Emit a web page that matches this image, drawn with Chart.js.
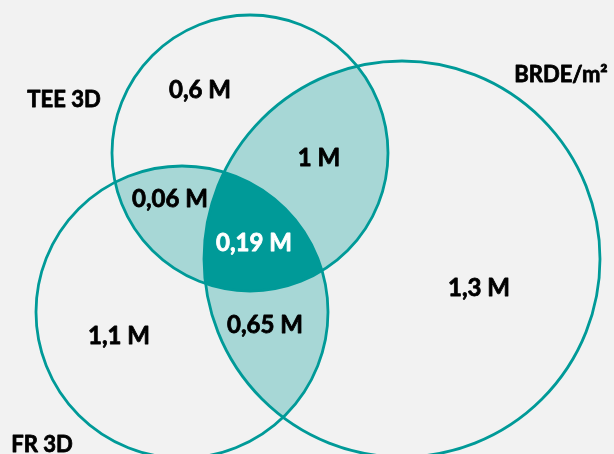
<!DOCTYPE html>
<html>
<head>
<meta charset="utf-8">
<script src="https://cdn.jsdelivr.net/npm/chart.js@4.4.1/dist/chart.umd.min.js"></script>
<style>
  html, body { margin: 0; padding: 0; background: #f2f2f2; }
  #wrap { width: 614px; height: 454px; }
</style>
</head>
<body>
<div id="wrap"><canvas id="venn"></canvas></div>
<script>
// DATA

// the three sets: centre and radius in chart units
const setNames = ["TEE 3D", "FR 3D", "BRDE/m²"];
const setX = [250, 182, 402];
const setY = [153, 312, 259];
const setR = [138, 146, 198];
const setLabelX = [64, 42, 561];
const setLabelY = [100, 445, 75];

// regions: TEE only, FR only, BRDE only, TEE∩FR, TEE∩BRDE, FR∩BRDE, all three
const regionValues = [0.6, 1.1, 1.3, 0.06, 1, 0.65, 0.19];
const regionX = [200, 119, 479, 170, 319, 265, 254];
const regionY = [90, 336, 288, 199, 158, 325, 243];

const TEAL = "#009a98";
const LIGHT = "#a7d7d6";

// HELPERS

function toPx(chart, i) {
  const sx = chart.scales.x, sy = chart.scales.y;
  const cx = sx.getPixelForValue(setX[i]);
  const cy = sy.getPixelForValue(setY[i]);
  const r = Math.abs(sx.getPixelForValue(setX[i] + setR[i]) - cx);
  return { cx, cy, r };
}

function circlePath(ctx, c) {
  ctx.beginPath();
  ctx.arc(c.cx, c.cy, c.r, 0, Math.PI * 2);
  ctx.closePath();
}

function fmt(v) {
  return String(v).replace(".", ",") + " M";
}

// bold text with a thin outline of the same colour, to get closer to the heavier original
function boldText(ctx, txt, x, y, color) {
  ctx.fillStyle = color;
  ctx.strokeStyle = color;
  ctx.lineWidth = 0.8;
  ctx.lineJoin = "round";
  ctx.fillText(txt, x, y);
  ctx.strokeText(txt, x, y);
}

// PLUGIN: overlap shading + text

const vennPlugin = {
  id: "venn",
  beforeDatasetsDraw(chart) {
    const ctx = chart.ctx;
    const c = [0, 1, 2].map(i => toPx(chart, i));

    // pairwise overlaps
    for (let i = 0; i < 3; i++) {
      for (let j = i + 1; j < 3; j++) {
        ctx.save();
        circlePath(ctx, c[i]);
        ctx.clip();
        circlePath(ctx, c[j]);
        ctx.fillStyle = LIGHT;
        ctx.fill();
        ctx.restore();
      }
    }

    // triple overlap
    ctx.save();
    circlePath(ctx, c[0]);
    ctx.clip();
    circlePath(ctx, c[1]);
    ctx.clip();
    circlePath(ctx, c[2]);
    ctx.fillStyle = TEAL;
    ctx.fill();
    ctx.restore();
  },
  afterDatasetsDraw(chart) {
    const ctx = chart.ctx;
    const sx = chart.scales.x, sy = chart.scales.y;
    ctx.save();
    ctx.textAlign = "center";
    ctx.textBaseline = "middle";

    ctx.font = "bold 22px Lato";
    setNames.forEach((name, i) => {
      boldText(ctx, name, sx.getPixelForValue(setLabelX[i]), sy.getPixelForValue(setLabelY[i]), "#000");
    });

    ctx.font = "bold 24px Lato";
    regionValues.forEach((v, i) => {
      boldText(ctx, fmt(v), sx.getPixelForValue(regionX[i]), sy.getPixelForValue(regionY[i]),
        i === 6 ? "#fff" : "#000");
    });
    ctx.restore();
  }
};

// CHART

new Chart(document.getElementById("venn"), {
  type: "scatter",
  data: {
    datasets: [{
      label: "sets",
      data: setX.map((x, i) => ({ x: x, y: setY[i] })),
      pointRadius: (c) => {
        const sx = c.chart.scales.x;
        if (!sx) return 0;
        const i = c.dataIndex;
        return Math.abs(sx.getPixelForValue(setX[i] + setR[i]) - sx.getPixelForValue(setX[i]));
      },
      pointBackgroundColor: "rgba(0,0,0,0)",
      pointBorderColor: TEAL,
      pointBorderWidth: 2.8
    }]
  },
  options: {
    responsive: true,
    maintainAspectRatio: false,
    animation: false,
    events: [],
    layout: { padding: 0 },
    plugins: {
      legend: { display: false },
      tooltip: { enabled: false }
    },
    scales: {
      x: { type: "linear", min: 0, max: 614, display: false },
      y: { type: "linear", min: 0, max: 454, reverse: true, display: false }
    }
  },
  plugins: [vennPlugin]
});
</script>
</body>
</html>
